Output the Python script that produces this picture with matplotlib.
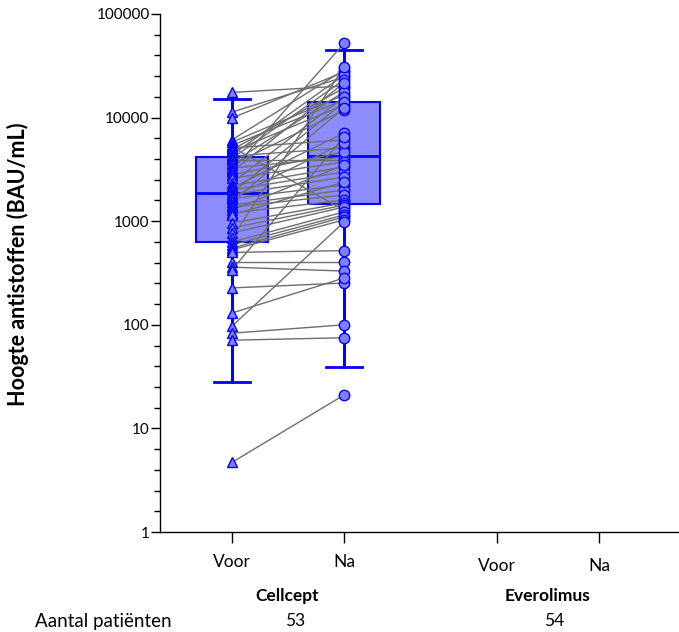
import numpy as np
import matplotlib
matplotlib.use("Agg")
import matplotlib.pyplot as plt

plt.rcParams['font.family'] = ['Lato', 'DejaVu Sans']

# antistoffen per patiënt (BAU/mL), Cellcept groep: voor en na
voor = [17500, 11300, 9900, 6100, 5800, 5400, 5200, 5100, 4900, 4700,
        4350, 4250, 4050, 3900, 3650, 3500, 3250, 3100, 3000, 2800,
        2600, 2350, 2200, 2100, 2000, 1870, 1800, 1700, 1650, 1530,
        1430, 1370, 1280, 1200, 1150, 960, 860, 770, 690, 630,
        590, 550, 530, 500, 400, 360, 340, 227, 130, 97,
        83, 71, 4.7]
na = [20200, 24600, 27600, 28800, 16500, 14800, 1280, 6100, 19300, 13200,
      25800, 5100, 23100, 3900, 17700, 11800, 4170, 52000, 21600, 4660,
      3730, 15800, 3340, 7100, 2990, 14100, 2670, 5700, 2240, 12400,
      2000, 1790, 3490, 1600, 2390, 1500, 1430, 1370, 30800, 1230,
      1150, 1100, 1030, 520, 400, 330, 6500, 253, 283, 980,
      100, 75, 21]

box_voor = dict(q1=634, med=1880, q3=4140, whislo=28, whishi=15100)
box_na = dict(q1=1470, med=4290, q3=14100, whislo=39, whishi=45000)

tick_labels = ['Voor', 'Na', 'Voor', 'Na']
groups = ['Cellcept', 'Everolimus']
n_patienten = [53, 54]

pos = [1, 2, 3.366, 4.277]
blue = '#0000ff'
fill = '#8c8cff'

fig = plt.figure(figsize=(6.79, 6.32), dpi=100)
ax = fig.add_axes([160 / 679, 100 / 632, 519 / 679, 518 / 632])

# boxen
stats = [dict(box_voor, label=''), dict(box_na, label='')]
ax.bxp(stats, positions=pos[:2], widths=0.65, patch_artist=True,
       showfliers=False,
       boxprops=dict(facecolor=fill, edgecolor=blue, linewidth=1.5),
       medianprops=dict(color=blue, linewidth=2),
       whiskerprops=dict(color=blue, linewidth=2),
       capprops=dict(color=blue, linewidth=2),
       capwidths=0.32, zorder=1)

# lijnen per patiënt
for v, n in zip(voor, na):
    ax.plot([pos[0], pos[1]], [v, n], color='#6e6e6e', lw=1, zorder=2)

# whiskers nogmaals boven de lijnen
for p, b in zip(pos[:2], [box_voor, box_na]):
    ax.plot([p, p], [b['whislo'], b['q1']], color=blue, lw=2, zorder=3)
    ax.plot([p, p], [b['q3'], b['whishi']], color=blue, lw=2, zorder=3)

ax.plot([pos[0]] * len(voor), voor, ls='none', marker='^', ms=7.5,
        mfc='#8080ff', mec=blue, mew=1, zorder=4)
ax.plot([pos[1]] * len(na), na, ls='none', marker='o', ms=7.5,
        mfc='#8080ff', mec=blue, mew=1, zorder=4)

ax.set_yscale('log')
ax.set_ylim(1, 100000)
ax.set_xlim(1 - 72 / 112, 1 + 447 / 112)

ax.set_yticks([1, 10, 100, 1000, 10000, 100000])
ax.set_yticklabels(['1', '10', '100', '1000', '10000', '100000'])
minor = [10 ** (d + k / 5) for d in range(5) for k in range(1, 5)]
ax.set_yticks(minor, minor=True)
ax.yaxis.set_minor_formatter(matplotlib.ticker.NullFormatter())

ax.set_xticks(pos)
ax.set_xticklabels(tick_labels)
ax.tick_params(axis='y', which='major', length=6.5, width=1, labelsize=11, pad=1)
ax.tick_params(axis='y', which='minor', length=4, width=1)
ax.tick_params(axis='x', length=8, width=1, labelsize=12.5, pad=8)
for t in ax.xaxis.get_major_ticks()[2:]:
    t.set_pad(10.5)

for s in ['top', 'right']:
    ax.spines[s].set_visible(False)
ax.spines['left'].set_linewidth(1)
ax.spines['bottom'].set_linewidth(1)

ax.set_ylabel('Hoogte antistoffen (BAU/mL)', fontsize=15.5, fontweight='bold')
ax.yaxis.set_label_coords(-0.252, 0.517)

tr = ax.get_xaxis_transform()
ax.text(1.49, -0.124, groups[0], transform=tr, ha='center', va='center',
        fontsize=12.5, fontweight='bold')
ax.text(3.82, -0.124, groups[1], transform=tr, ha='center', va='center',
        fontsize=12.5, fontweight='bold')
ax.text(1.56, -0.172, str(n_patienten[0]), transform=tr, ha='center', va='center',
        fontsize=12.5)
ax.text(3.88, -0.172, str(n_patienten[1]), transform=tr, ha='center', va='center',
        fontsize=12.5)
fig.text(35 / 679, 1 - 621 / 632, 'Aantal patiënten', ha='left', va='center',
         fontsize=13.5)

fig.savefig('out.png', dpi=100)
